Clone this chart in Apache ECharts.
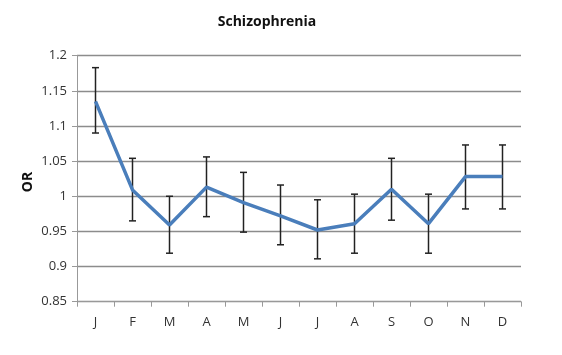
<!DOCTYPE html>
<html><head><meta charset="utf-8">
<script src="https://cdn.jsdelivr.net/npm/echarts@6/dist/echarts.min.js"></script>
<style>html,body{margin:0;padding:0;background:#fff}#c{width:562px;height:355px}</style>
</head><body><div id="c"></div>
<script>
const months = ['J','F','M','A','M','J','J','A','S','O','N','D'];
const orValues = [1.135, 1.009, 0.959, 1.013, 0.991, 0.972, 0.952, 0.961, 1.010, 0.961, 1.028, 1.028];
const ciUpper = [1.183, 1.054, 1.000, 1.056, 1.034, 1.016, 0.995, 1.003, 1.054, 1.003, 1.073, 1.073];
const ciLower = [1.090, 0.965, 0.919, 0.971, 0.949, 0.931, 0.911, 0.919, 0.966, 0.919, 0.982, 0.982];
const yTicks = { min: 0.85, max: 1.2, interval: 0.05 };
const yAxisTitle = 'OR';

const errData = months.map((m, i) => [i, ciLower[i], ciUpper[i]]);
const chart = echarts.init(document.getElementById('c'));
chart.setOption({
  animation: false,
  title: { text: 'Schizophrenia', left: 262, top: 10, textAlign: 'center',
    textStyle: { fontFamily: 'Open Sans', fontWeight: 'bold', fontSize: 14, color: '#111' } },
  graphic: [{
    type: 'text', x: 28, y: 182, rotation: Math.PI / 2,
    style: { text: yAxisTitle, font: 'bold 14px "Open Sans"', fill: '#111',
      textAlign: 'center', textVerticalAlign: 'middle' }
  }],
  grid: { left: 77, right: 41, top: 55.7, bottom: 53.3 },
  xAxis: {
    type: 'category', data: months, boundaryGap: true,
    axisLine: { lineStyle: { color: '#999', width: 1 } },
    axisTick: { show: true, alignWithLabel: false, length: 5, lineStyle: { color: '#999' } },
    axisLabel: { color: '#333', fontFamily: 'Open Sans', fontSize: 13, margin: 14 }
  },
  yAxis: {
    type: 'value', min: yTicks.min, max: yTicks.max, interval: yTicks.interval,
    axisLine: { show: true, lineStyle: { color: '#999', width: 1 } },
    axisTick: { show: true, length: 5, lineStyle: { color: '#999' } },
    axisLabel: { color: '#333', fontFamily: 'Open Sans', fontSize: 13, margin: 10,
      formatter: v => String(parseFloat(v.toFixed(2))) },
    splitLine: { lineStyle: { color: '#8c8c8c', width: 1.3 } }
  },
  series: [
    {
      type: 'custom', data: errData, z: 3,
      renderItem: (params, api) => {
        const x = api.value(0);
        const lo = api.coord([x, api.value(1)]);
        const hi = api.coord([x, api.value(2)]);
        const cw = 3.5;
        const st = { stroke: '#222', lineWidth: 1.5 };
        return { type: 'group', children: [
          { type: 'line', shape: { x1: lo[0], y1: lo[1], x2: hi[0], y2: hi[1] }, style: st },
          { type: 'line', shape: { x1: lo[0]-cw, y1: lo[1], x2: lo[0]+cw, y2: lo[1] }, style: st },
          { type: 'line', shape: { x1: hi[0]-cw, y1: hi[1], x2: hi[0]+cw, y2: hi[1] }, style: st }
        ]};
      }
    },
    {
      type: 'line', data: orValues, symbol: 'none', z: 4,
      lineStyle: { color: '#4a7ebb', width: 3.5 }
    }
  ]
});
</script></body></html>
